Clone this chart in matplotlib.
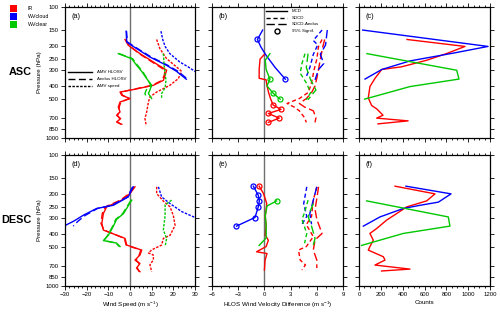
import matplotlib
matplotlib.use('Agg')
import matplotlib.pyplot as plt
from matplotlib.ticker import FixedLocator, MultipleLocator, NullLocator, NullFormatter
from matplotlib.patches import Rectangle

plt.rcParams['font.family'] = ['Liberation Sans', 'DejaVu Sans']
plt.rcParams['mathtext.fontset'] = 'custom'
plt.rcParams['mathtext.rm'] = 'Liberation Sans'
plt.rcParams['mathtext.it'] = 'Liberation Sans:italic'

RED, BLUE, GREEN = '#ff0000', '#0000ff', '#00c800'

# ---------------- data ----------------
# Panel (a) ASC: wind speed (m/s) vs pressure (hPa)
a_ir_p = [177, 196, 227, 263, 304, 332, 363, 396, 427, 446, 472, 500, 531, 580, 633, 671, 711, 755, 786]
a_ir_hlos = [-2.3, -0.8, 4.6, 10.8, 16.9, 16.2, 15.4, 10.8, 1.5, -4.6, -3.8, 0.0, -4.6, -5.4, -4.6, -6.2, -4.3, -6.2, -3.8]
a_ir_aeol = [-2.0, -0.5, 4.2, 10.2, 16.2, 15.8, 14.8, 10.2, 1.0, -4.2, -3.4, -0.4, -4.2, -5.0, -5.0, -5.8, -4.8, -5.8, -4.2]
a_ir_spd_p = [177, 208, 248, 287, 310, 352, 396, 446, 486, 531, 633, 711, 786]
a_ir_spd = [12.3, 13.8, 16.9, 21.5, 23.8, 22.3, 18.4, 12.3, 9.2, 8.5, 7.7, 6.9, 7.4]
a_wc_p = [153, 185, 200, 241, 279, 310, 356]
a_wc_hlos = [-1.8, -1.5, 1.5, 9.2, 16.9, 21.5, 26.0]
a_wc_aeol = [-1.6, -1.2, 1.9, 9.8, 17.5, 22.2, 26.6]
a_wc_spd_p = [153, 177, 200, 227, 263, 287, 310, 330]
a_wc_spd = [14.3, 15.1, 16.2, 18.4, 23.0, 26.9, 30.0, 33.0]
a_wl_p = [227, 248, 279, 310, 352, 396, 430, 457, 500]
a_wl_hlos = [-5.4, 0.8, 3.1, 5.4, 7.7, 10.0, 9.2, 8.5, 10.0]
a_wl_aeol = [-5.0, 1.2, 3.5, 5.8, 7.9, 9.6, 7.5, 6.9, 7.7]
a_wl_spd_p = [227, 287, 363, 414, 457, 500]
a_wl_spd = [15.4, 15.8, 16.6, 16.2, 14.6, 14.6]

# Panel (d) DESC
d_ir_p = [175, 197, 221, 249, 280, 333, 374, 433, 487, 532, 580, 634, 673, 730, 778]
d_ir_hlos = [2.3, 0.0, -3.8, -10.8, -12.3, -13.0, -12.3, -2.3, -1.5, 5.4, 4.6, 2.3, 4.6, 3.0, 4.6]
d_ir_aeol = [2.0, -0.4, -4.4, -11.4, -12.8, -13.4, -12.0, -2.6, -1.8, 5.0, 4.2, 2.8, 4.2, 3.4, 4.2]
d_ir_spd_p = [175, 197, 225, 249, 290, 345, 410, 433, 487, 530, 560, 580, 630, 690, 778]
d_ir_spd = [12.3, 12.3, 15.4, 18.5, 20.0, 20.8, 18.5, 15.4, 14.6, 10.0, 8.5, 10.8, 10.8, 9.2, 10.0]
d_wc_p = [175, 209, 242, 256, 288, 320, 349]
d_wc_hlos = [1.5, -0.8, -7.7, -15.4, -21.5, -26.0, -30.5]
d_wc_aeol = [1.2, -1.2, -8.4, -15.0, -20.5, -24.0, -26.2]
d_wc_spd_p = [175, 209, 235, 270, 300, 315]
d_wc_spd = [13.1, 14.6, 18.5, 23.8, 30.0, 32.0]
d_wl_p = [221, 280, 310, 350, 410, 450, 470, 500]
d_wl_hlos = [0.8, -3.0, -6.2, -7.7, -10.0, -12.3, -6.2, -4.6]
d_wl_aeol = [0.5, -3.4, -6.6, -8.0, -10.3, -12.0, -6.6, -4.9]
d_wl_spd_p = [221, 240, 290, 374, 433, 500]
d_wl_spd = [19.2, 16.2, 16.2, 15.4, 16.9, 16.2]

# Panel (b) ASC: HLOS wind velocity difference
b_ir_mcd_p = [230, 250, 300, 350, 360, 400, 455, 500, 560, 605, 650, 705, 760]
b_ir_mcd = [0.0, -0.5, -0.6, -0.6, 0.2, 0.3, 0.5, 0.7, 1.0, 1.9, 0.45, 1.7, 0.45]
b_ir_sig = [False] * 8 + [True] * 5
b_ir_sd_p = [177, 200, 250, 300, 350, 400, 450, 500, 545, 580, 620, 700, 760]
b_ir_sdcd = [6.6, 6.2, 6.0, 5.7, 5.5, 5.3, 5.0, 4.0, 2.6, 3.4, 4.0, 4.6, 4.8]
b_ir_sdae = [6.9, 6.7, 6.4, 6.2, 6.0, 5.8, 5.4, 4.8, 4.0, 4.6, 5.6, 5.9, 5.8]
b_wc_mcd_p = [150, 177, 202, 234, 288, 356]
b_wc_mcd = [-0.2, -0.8, -0.4, 0.2, 1.2, 2.4]
b_wc_sig = [False, True, False, False, False, True]
b_wc_sd_p = [150, 180, 195, 230, 290, 340]
b_wc_sdcd = [6.6, 5.6, 6.1, 5.6, 5.2, 4.8]
b_wc_sdae_p = [150, 195, 230, 270, 300, 360]
b_wc_sdae = [7.2, 7.0, 6.4, 6.8, 6.2, 5.8]
b_wl_mcd_p = [227, 255, 300, 356, 400, 455, 505]
b_wl_mcd = [0.64, 0.1, 0.2, 0.64, 0.3, 1.0, 1.8]
b_wl_sig = [False, False, False, True, False, True, True]
b_wl_sd_p = [227, 270, 320, 380, 450, 510]
b_wl_sdcd = [4.65, 4.3, 4.1, 4.8, 5.3, 4.8]
b_wl_sdae_p = [227, 290, 360, 430, 480, 510]
b_wl_sdae = [5.0, 4.8, 5.3, 5.9, 5.3, 5.0]

# Panel (e) DESC
e_ir_mcd_p = [173, 197, 235, 294, 350, 408, 448, 500, 548, 565, 634, 755]
e_ir_mcd = [-0.6, -0.1, 0.27, 0.1, 0.2, 0.1, 0.45, 0.2, -0.9, 0.3, 0.08, 0.0]
e_ir_sig = [True] + [False] * 11
e_ir_sd_p = [175, 221, 294, 340, 420, 500, 532, 634, 690, 755]
e_ir_sdcd = [6.0, 5.6, 5.4, 4.8, 5.6, 4.8, 3.9, 4.1, 4.7, 4.3]
e_ir_sdae_p = [175, 215, 260, 310, 397, 445, 532, 634, 730]
e_ir_sdae = [6.2, 6.0, 5.8, 6.0, 6.6, 5.8, 5.6, 6.0, 6.0]
e_wc_mcd_p = [173, 203, 224, 249, 300, 349]
e_wc_mcd = [-1.27, -0.7, -0.58, -0.7, -1.08, -3.2]
e_wc_sig = [True] * 6
e_wc_sd_p = [175, 235, 294, 338]
e_wc_sdcd = [4.85, 4.5, 4.85, 4.3]
e_wc_sdae_p = [175, 221, 280, 338]
e_wc_sdae = [6.0, 5.6, 5.2, 5.4]
e_wl_mcd_p = [224, 245, 290, 350, 430, 490]
e_wl_mcd = [1.4, 0.3, 0.1, 0.2, 0.2, -0.6]
e_wl_sig = [True] + [False] * 5
e_wl_sd_p = [221, 275, 310, 397, 472]
e_wl_sdcd = [5.0, 4.6, 4.3, 4.85, 4.6]
e_wl_sdae_p = [235, 294, 350, 433, 487]
e_wl_sdae = [5.6, 5.0, 5.4, 5.8, 5.6]

# Panel (c) ASC counts
c_ir_p = [177, 200, 227, 255, 286, 300, 350, 405, 495, 565, 600, 670, 705, 740, 780]
c_ir = [440, 971, 800, 620, 391, 208, 147, 100, 85, 116, 163, 220, 162, 450, 174]
c_wc_p = [150, 200, 225, 258, 300, 355]
c_wc = [34, 1182, 863, 467, 208, 55]
c_wl_p = [227, 304, 355, 405, 505]
c_wl = [73, 895, 916, 467, 52]

# Panel (f) DESC counts
f_ir_p = [173, 198, 224, 249, 280, 314, 364, 397, 447, 500, 532, 598, 634, 692, 743, 768]
f_ir = [330, 696, 620, 437, 345, 253, 162, 100, 131, 100, 85, 223, 238, 146, 467, 207]
f_wc_p = [173, 198, 229, 242, 256, 297, 349]
f_wc = [430, 843, 727, 560, 406, 192, 40]
f_wl_p = [224, 297, 349, 397, 490]
f_wl = [70, 818, 833, 406, 24]

p_ticks = [100, 150, 200, 250, 300, 400, 500, 700, 850, 1000]
a_xticks = [-30, -20, -10, 0, 10, 20, 30]
b_xticks = [-6, -3, 0, 3, 6, 9]
c_xticks = [0, 200, 400, 600, 800, 1000, 1200]

# ---------------- figure ----------------
W, H = 500, 312
fig = plt.figure(figsize=(5.0, 3.12), dpi=100)

def pos(x0, x1, yt, yb):
    return [x0 / W, 1 - yb / H, (x1 - x0) / W, (yb - yt) / H]

cols = [(65, 195), (212, 343), (359, 490)]
rows = [(7, 138), (155, 286)]
axes = {}
names = [['a', 'b', 'c'], ['d', 'e', 'f']]
for r, (yt, yb) in enumerate(rows):
    for c, (x0, x1) in enumerate(cols):
        axes[names[r][c]] = fig.add_axes(pos(x0, x1, yt, yb))

TFS = 4.3
for k, ax in axes.items():
    ax.set_yscale('log')
    ax.set_ylim(1000, 100)
    ax.yaxis.set_major_locator(FixedLocator(p_ticks))
    ax.yaxis.set_minor_locator(NullLocator())
    ax.yaxis.set_minor_formatter(NullFormatter())
    if k in ('a', 'd'):
        ax.set_yticklabels([str(v) for v in p_ticks])
        ax.set_ylabel('Pressure (hPa)', fontsize=4.5, labelpad=2)
    else:
        ax.set_yticklabels([])
    if k in ('a', 'd'):
        ax.set_xlim(-30, 30); ax.set_xticks(a_xticks); ax.xaxis.set_minor_locator(MultipleLocator(2))
        ax.axvline(0, color='#707070', lw=1.0, zorder=1)
    elif k in ('b', 'e'):
        ax.set_xlim(-6, 9); ax.set_xticks(b_xticks); ax.xaxis.set_minor_locator(MultipleLocator(1))
        ax.axvline(0, color='#707070', lw=1.0, zorder=1)
    else:
        ax.set_xlim(0, 1200); ax.set_xticks(c_xticks); ax.xaxis.set_minor_locator(MultipleLocator(50))
    if k in ('a', 'b', 'c'):
        ax.set_xticklabels([])
    ax.tick_params(which='both', direction='out', top=True, right=True, labelsize=TFS, width=0.6, pad=1.5)
    ax.tick_params(which='major', length=3)
    ax.tick_params(which='minor', length=1.6)
    for s in ax.spines.values():
        s.set_linewidth(0.9)
    ax.text(0.05, 0.93, '(%s)' % k, transform=ax.transAxes, fontsize=5.3, ha='left', va='center')

axes['d'].set_xlabel('Wind Speed (m s$^{-1}$)', fontsize=4.5, labelpad=2)
axes['e'].set_xlabel('HLOS Wind Velocity Difference (m s$^{-1}$)', fontsize=4.5, labelpad=2)
axes['f'].set_xlabel('Counts', fontsize=4.5, labelpad=2)

LW = 1.0
DS_AE = (5, 2.5)
DS_SP = (1.8, 1.0)

def wind(ax, p, hl, ae, sp_p, sp, col):
    ax.plot(hl, p, color=col, lw=LW)
    ax.plot(ae, p, color=col, lw=LW, dashes=DS_AE)
    ax.plot(sp, sp_p, color=col, lw=LW, dashes=DS_SP)

wind(axes['a'], a_ir_p, a_ir_hlos, a_ir_aeol, a_ir_spd_p, a_ir_spd, RED)
wind(axes['a'], a_wc_p, a_wc_hlos, a_wc_aeol, a_wc_spd_p, a_wc_spd, BLUE)
wind(axes['a'], a_wl_p, a_wl_hlos, a_wl_aeol, a_wl_spd_p, a_wl_spd, GREEN)
wind(axes['d'], d_ir_p, d_ir_hlos, d_ir_aeol, d_ir_spd_p, d_ir_spd, RED)
wind(axes['d'], d_wc_p, d_wc_hlos, d_wc_aeol, d_wc_spd_p, d_wc_spd, BLUE)
wind(axes['d'], d_wl_p, d_wl_hlos, d_wl_aeol, d_wl_spd_p, d_wl_spd, GREEN)

DS_SD = (3, 2)
DS_SA = (6, 2.5)

def diff(ax, mp, m, sig, sdp, sd, sap, sa, col):
    ax.plot(m, mp, color=col, lw=LW)
    xs = [v for v, s in zip(m, sig) if s]
    ys = [v for v, s in zip(mp, sig) if s]
    ax.plot(xs, ys, ls='none', marker='o', ms=3.6, mfc='none', mec=col, mew=0.9)
    ax.plot(sd, sdp, color=col, lw=LW, dashes=DS_SD)
    ax.plot(sa, sap, color=col, lw=LW, dashes=DS_SA)

diff(axes['b'], b_ir_mcd_p, b_ir_mcd, b_ir_sig, b_ir_sd_p, b_ir_sdcd, b_ir_sd_p, b_ir_sdae, RED)
diff(axes['b'], b_wc_mcd_p, b_wc_mcd, b_wc_sig, b_wc_sd_p, b_wc_sdcd, b_wc_sdae_p, b_wc_sdae, BLUE)
diff(axes['b'], b_wl_mcd_p, b_wl_mcd, b_wl_sig, b_wl_sd_p, b_wl_sdcd, b_wl_sdae_p, b_wl_sdae, GREEN)
diff(axes['e'], e_ir_mcd_p, e_ir_mcd, e_ir_sig, e_ir_sd_p, e_ir_sdcd, e_ir_sdae_p, e_ir_sdae, RED)
diff(axes['e'], e_wc_mcd_p, e_wc_mcd, e_wc_sig, e_wc_sd_p, e_wc_sdcd, e_wc_sdae_p, e_wc_sdae, BLUE)
diff(axes['e'], e_wl_mcd_p, e_wl_mcd, e_wl_sig, e_wl_sd_p, e_wl_sdcd, e_wl_sdae_p, e_wl_sdae, GREEN)

for ax, data in ((axes['c'], ((c_ir_p, c_ir, RED), (c_wc_p, c_wc, BLUE), (c_wl_p, c_wl, GREEN))),
                 (axes['f'], ((f_ir_p, f_ir, RED), (f_wc_p, f_wc, BLUE), (f_wl_p, f_wl, GREEN)))):
    for p, v, col in data:
        ax.plot(v, p, color=col, lw=LW)

# legend in (a)
axa = axes['a']
LFS = 3.2
for yf, lab, ds in ((0.506, 'AMV HLOSV', None), (0.45, 'Aeolus HLOSV', DS_AE), (0.40, 'AMV speed', DS_SP)):
    kw = {} if ds is None else {'dashes': ds}
    axa.plot([0.025, 0.205], [yf, yf], transform=axa.transAxes, color='black', lw=1.0, **kw)
    axa.text(0.244, yf, lab, transform=axa.transAxes, fontsize=LFS, va='center', ha='left')

# legend in (b)
axb = axes['b']
for yf, lab, ds in ((0.969, 'MCD', None), (0.918, 'SDCD', DS_SD), (0.868, 'SDCD-Aeolus', DS_SA)):
    kw = {} if ds is None else {'dashes': ds}
    axb.plot([0.412, 0.570], [yf, yf], transform=axb.transAxes, color='black', lw=1.0, **kw)
    axb.text(0.608, yf, lab, transform=axb.transAxes, fontsize=LFS, va='center', ha='left')
axb.plot([0.494], [0.817], transform=axb.transAxes, marker='o', ms=3.6, mfc='none', mec='black', mew=1.0)
axb.text(0.608, 0.817, '95% Signif.', transform=axb.transAxes, fontsize=LFS, va='center', ha='left')

# color legend top-left
for i, (col, lab) in enumerate(((RED, 'IR'), (BLUE, 'WVcloud'), (GREEN, 'WVclear'))):
    yc = 8.5 + i * 7.8
    fig.patches.append(Rectangle((10 / W, 1 - (yc + 3.5) / H), 7 / W, 7 / H, transform=fig.transFigure,
                                 facecolor=col, edgecolor='none'))
    fig.text(28 / W, 1 - yc / H, lab, fontsize=3.8, va='center', ha='left')

fig.text(32 / W, 1 - 72 / H, 'ASC', fontsize=7.8, fontweight='bold', ha='right', va='center')
fig.text(32 / W, 1 - 220 / H, 'DESC', fontsize=7.8, fontweight='bold', ha='right', va='center')

fig.savefig('out.png', dpi=100)
